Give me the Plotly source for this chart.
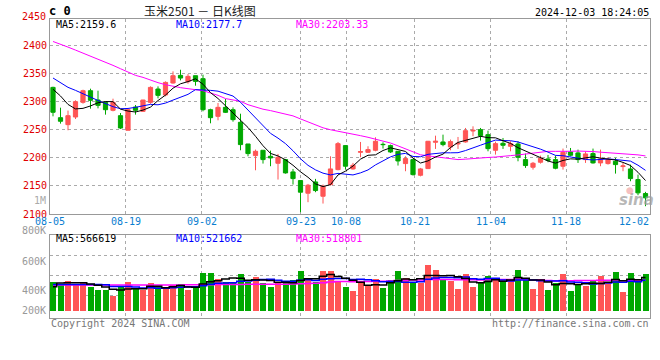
import plotly.graph_objects as go

# ---------------- data ----------------
DATE_TICK_INDEX = [0, 10, 20, 33, 39, 48, 58, 68, 78]
DATE_TICK_LABELS = ["08-05", "08-19", "09-02", "09-23", "10-08", "10-21", "11-04", "11-18", "12-02"]

OPEN = [2325.3, 2271.4, 2259.0, 2272.6, 2298.7, 2319.4, 2302.8, 2298.7, 2284.5, 2275.0,
        2249.0, 2290.4, 2282.7, 2298.7, 2322.4, 2311.7, 2333.1, 2346.7, 2335.4, 2346.1,
        2340.8, 2285.6, 2273.8, 2289.8, 2285.6, 2263.2, 2224.6, 2203.9, 2213.4, 2202.7,
        2190.3, 2196.8, 2174.9, 2159.5, 2137.0, 2157.1, 2131.6, 2152.4, 2179.0, 2221.7,
        2180.2, 2209.8, 2209.8, 2213.4, 2224.0, 2221.7, 2211.6, 2189.7, 2196.8, 2168.9,
        2180.8, 2227.6, 2228.2, 2219.3, 2224.6, 2228.2, 2247.7, 2250.1, 2241.2, 2213.4,
        2225.8, 2220.5, 2224.6, 2196.8, 2183.2, 2192.1, 2198.0, 2196.8, 2185.0, 2210.4,
        2208.7, 2196.8, 2207.5, 2190.9, 2189.7, 2193.8, 2184.4, 2180.2, 2161.3, 2136.4]
HIGH = [2326.5, 2289.2, 2284.0, 2302.3, 2321.2, 2323.0, 2319.4, 2299.9, 2305.2, 2279.7,
        2287.0, 2294.0, 2303.0, 2327.1, 2327.1, 2336.0, 2353.8, 2356.7, 2349.0, 2346.1,
        2347.9, 2287.4, 2297.5, 2304.6, 2289.8, 2278.5, 2224.6, 2214.6, 2213.4, 2212.8,
        2206.9, 2198.0, 2180.2, 2159.5, 2153.5, 2162.5, 2152.4, 2202.7, 2228.2, 2222.3,
        2190.9, 2228.2, 2220.5, 2236.5, 2227.6, 2223.5, 2211.6, 2202.7, 2198.0, 2182.0,
        2230.0, 2239.4, 2241.2, 2232.4, 2237.1, 2253.1, 2256.0, 2253.1, 2248.3, 2228.8,
        2235.3, 2229.4, 2229.4, 2207.5, 2192.6, 2203.9, 2205.1, 2203.9, 2216.4, 2217.5,
        2214.6, 2211.0, 2216.4, 2214.6, 2201.0, 2199.8, 2190.9, 2187.9, 2170.1, 2139.4]
LOW = [2273.8, 2260.8, 2249.0, 2269.0, 2296.3, 2287.4, 2288.0, 2276.8, 2282.7, 2251.3,
       2249.0, 2276.8, 2281.5, 2296.3, 2305.8, 2309.4, 2331.9, 2337.8, 2331.9, 2328.3,
       2282.7, 2261.4, 2266.7, 2279.7, 2264.3, 2213.4, 2202.7, 2177.8, 2189.7, 2185.0,
       2161.3, 2171.9, 2152.4, 2103.2, 2121.0, 2138.8, 2118.6, 2150.6, 2177.8, 2179.0,
       2179.0, 2201.0, 2208.7, 2211.6, 2216.4, 2208.7, 2186.2, 2176.1, 2168.4, 2167.0,
       2180.0, 2215.8, 2220.5, 2213.4, 2215.8, 2227.0, 2238.3, 2230.6, 2211.6, 2205.7,
       2215.8, 2211.6, 2193.8, 2182.0, 2179.0, 2189.7, 2192.1, 2179.6, 2179.0, 2202.7,
       2190.9, 2190.9, 2189.7, 2185.0, 2187.9, 2171.9, 2176.1, 2158.3, 2133.4, 2113.9]
CLOSE = [2281.0, 2265.0, 2275.0, 2299.9, 2319.4, 2302.3, 2293.3, 2285.6, 2298.7, 2253.0,
         2285.6, 2284.5, 2302.8, 2325.3, 2311.1, 2334.2, 2346.1, 2341.9, 2344.9, 2336.0,
         2285.6, 2271.4, 2289.8, 2280.9, 2267.9, 2223.5, 2207.5, 2211.6, 2196.8, 2199.8,
         2201.0, 2173.1, 2163.0, 2138.8, 2151.2, 2141.7, 2149.4, 2180.2, 2225.2, 2185.0,
         2186.7, 2211.0, 2214.6, 2229.4, 2223.5, 2210.4, 2194.4, 2198.6, 2170.1, 2180.2,
         2229.4, 2229.4, 2223.5, 2228.8, 2225.8, 2248.3, 2248.9, 2239.5, 2216.3, 2225.2,
         2222.3, 2225.2, 2200.9, 2186.2, 2190.3, 2199.2, 2195.6, 2181.4, 2209.8, 2204.5,
         2196.8, 2206.9, 2190.9, 2198.0, 2196.8, 2187.9, 2185.6, 2163.0, 2137.6, 2128.7]

MA5 = [2322.0, 2310.0, 2295.0, 2287.0, 2288.0, 2292.3, 2298.0, 2300.1, 2299.9, 2286.6,
       2283.2, 2281.5, 2284.9, 2290.2, 2301.9, 2311.6, 2323.9, 2331.7, 2335.6, 2340.6,
       2330.9, 2316.0, 2305.5, 2292.7, 2279.1, 2266.7, 2253.9, 2238.3, 2221.5, 2207.8,
       2203.3, 2196.5, 2186.7, 2175.1, 2165.4, 2153.6, 2148.8, 2152.3, 2169.5, 2176.3,
       2185.3, 2197.6, 2204.5, 2205.3, 2213.0, 2217.8, 2214.5, 2211.3, 2199.4, 2190.7,
       2194.5, 2201.5, 2206.5, 2218.3, 2227.4, 2231.2, 2235.1, 2238.3, 2235.8, 2235.6,
       2230.4, 2225.7, 2218.0, 2212.0, 2205.0, 2200.4, 2194.4, 2190.5, 2195.3, 2198.1,
       2197.6, 2199.9, 2201.8, 2199.4, 2197.9, 2196.1, 2191.8, 2186.3, 2174.2, 2159.6]
MA10 = [2342.0, 2333.0, 2325.4, 2320.0, 2313.5, 2308.0, 2302.0, 2296.0, 2291.0, 2287.3,
        2287.8, 2289.8, 2292.5, 2295.1, 2294.3, 2297.4, 2302.7, 2308.3, 2312.9, 2321.3,
        2321.3, 2320.0, 2318.6, 2314.2, 2309.9, 2298.8, 2285.0, 2271.9, 2257.1, 2243.5,
        2235.0, 2225.2, 2212.5, 2198.3, 2186.6, 2178.5, 2172.7, 2169.5, 2172.3, 2170.9,
        2169.5, 2173.2, 2178.4, 2187.4, 2194.7, 2201.6, 2206.1, 2207.9, 2202.4, 2201.9,
        2206.2, 2208.0, 2208.9, 2208.9, 2209.1, 2212.9, 2218.3, 2222.4, 2227.1, 2231.5,
        2230.8, 2230.4, 2228.2, 2223.9, 2220.3, 2215.4, 2210.1, 2204.3, 2203.7, 2201.6,
        2199.0, 2197.2, 2196.2, 2197.4, 2198.0, 2196.9, 2195.9, 2194.1, 2186.8, 2177.7]
MA30 = [2407.0, 2402.4, 2397.0, 2391.7, 2386.4, 2380.4, 2375.7, 2370.4, 2364.5, 2358.5,
        2352.0, 2346.7, 2343.1, 2337.8, 2333.7, 2330.1, 2327.1, 2324.8, 2323.0, 2321.8,
        2319.4, 2315.3, 2311.1, 2305.4, 2303.4, 2300.5, 2294.5, 2290.0, 2286.5, 2284.0,
        2281.3, 2278.3, 2274.6, 2269.2, 2263.6, 2258.2, 2253.4, 2249.9, 2247.5, 2245.2,
        2241.9, 2239.4, 2236.5, 2233.3, 2230.4, 2226.3, 2221.2, 2216.4, 2210.6, 2205.4,
        2203.5, 2202.1, 2199.9, 2198.2, 2196.8, 2197.6, 2199.0, 2199.9, 2200.6, 2201.4,
        2202.1, 2203.9, 2205.1, 2206.7, 2208.0, 2209.9, 2211.5, 2211.5, 2211.0, 2211.6,
        2212.0, 2211.8, 2211.1, 2210.0, 2209.1, 2208.4, 2208.1, 2206.9, 2205.2, 2203.33]

VOLUME = [490800, 456600, 507900, 450900, 473700, 399600, 354000, 354000, 257100, 399600,
          490800, 365400, 354000, 473700, 399600, 376800, 439500, 456600, 354000, 382500,
          644700, 644700, 542100, 490800, 468000, 627600, 485100, 576300, 473700, 411000,
          490800, 479400, 525000, 678900, 559200, 496500, 678900, 684600, 496500, 411000,
          342600, 496500, 428100, 542100, 388200, 525000, 684600, 564900, 485100, 479400,
          787200, 696000, 542100, 507900, 371100, 627600, 411000, 479400, 599100, 525000,
          496500, 525000, 701700, 525000, 371100, 507900, 354000, 468000, 627600, 342600,
          439500, 428100, 507900, 599100, 468000, 661800, 319800, 644700, 542100, 627600]
VOL_MA5 = [409500, 472200, 477900, 477900, 476000, 457700, 437200, 406400, 367700, 352900,
           371100, 373400, 373400, 416700, 416700, 393900, 408700, 429200, 405300, 401900,
           455500, 496500, 513600, 541000, 558100, 554600, 522700, 529600, 526100, 514700,
           487400, 486200, 476000, 517000, 546700, 547800, 587700, 619600, 583100, 553500,
           522700, 486200, 434900, 444100, 439500, 476000, 513600, 541000, 529600, 547800,
           600200, 602500, 598000, 602500, 580900, 548900, 491900, 479400, 497600, 528400,
           502200, 525000, 569500, 554600, 523900, 526100, 491900, 445200, 465700, 460000,
           446300, 461200, 469100, 463400, 488500, 533000, 511300, 538700, 527300, 566619]
VOL_MA10 = [449400, 449400, 449400, 449400, 449400, 449400, 449400, 443700, 415200, 414400,
            414400, 405300, 389900, 392200, 384800, 382500, 391100, 401300, 411000, 409300,
            424700, 452600, 471400, 473100, 480000, 505100, 509600, 521600, 533600, 536400,
            521000, 504500, 502800, 521600, 530700, 517600, 537000, 547800, 550100, 550100,
            535300, 537000, 527300, 513600, 496500, 499400, 499900, 488000, 486800, 493700,
            538100, 558100, 569500, 566000, 564300, 574600, 547200, 538700, 550100, 554600,
            525600, 508500, 524400, 526100, 526100, 514200, 508500, 507300, 510200, 491900,
            486200, 476600, 457200, 464600, 474300, 489700, 486200, 503900, 495400, 521662]
VOL_MA30 = [440000, 440000, 440000, 440000, 440000, 440000, 440000, 440000, 440000, 440000,
            440000, 440000, 440000, 440000, 440000, 440000, 441000, 441500, 442000, 442500,
            444000, 445500, 447000, 448000, 449000, 450000, 451000, 452000, 452800, 453400,
            453400, 454100, 454700, 462300, 465200, 468400, 479200, 490200, 498200, 498600,
            493700, 498000, 500500, 502800, 502400, 507300, 515500, 519100, 523500, 526700,
            531500, 533200, 533200, 533700, 530500, 530500, 528000, 524800, 529000, 532800,
            533000, 534500, 540400, 535300, 529000, 529400, 518500, 511300, 515700, 513400,
            516600, 514400, 517000, 518900, 521600, 526100, 514000, 516600, 518500, 518801]

PRICE_TICKS = [2100, 2150, 2200, 2250, 2300, 2350, 2400]
PRICE_TOP_LABEL = "2450"
VOL_AXIS_LABELS = ["800K", "600K", "400K", "200K"]

TITLE = "玉米2501 － 日K线图"
STAMP = "2024-12-03 18:24:05"

# ---------------- style / layout ----------------
RED = "#ff5555"
GREEN = "#00a800"
BLUE = "#0000ff"
MAGENTA = "#ff00ff"
GRID = "#aaaaaa"
BORDER = "#999999"
MONO = "DejaVu Sans Mono"

W, H = 660, 360
L, R, T, B = 50, 650, 19, 318          # plot area (px)
MAIN_BOTTOM_PX = 214
VOL_TOP_PX = 234.7
VOL_ZERO_PX = 310.7
VOL_PER_PX = 17100.0


def fx(px):
    return (px - L) / (R - L)


def fy(py):
    return (B - py) / (B - T)


N = len(CLOSE)
idx = list(range(N))
X_RANGE = [-0.4, N - 0.4]


def grid_x(i):
    # the date grid is spread over width/(n-1)
    return X_RANGE[0] + i * (X_RANGE[1] - X_RANGE[0]) / (N - 1)


grid_vals = [grid_x(i) for i in DATE_TICK_INDEX[1:-1]]

fig = go.Figure()

fig.add_trace(go.Candlestick(
    x=idx, open=OPEN, high=HIGH, low=LOW, close=CLOSE,
    increasing=dict(line=dict(color=RED, width=1), fillcolor=RED),
    decreasing=dict(line=dict(color=GREEN, width=1), fillcolor=GREEN),
    whiskerwidth=0, showlegend=False, hoverinfo="skip",
    xaxis="x", yaxis="y"))

for ys, col in ((MA30, MAGENTA), (MA10, BLUE), (MA5, "#000000")):
    fig.add_trace(go.Scatter(x=idx, y=ys, mode="lines",
                             line=dict(color=col, width=1),
                             showlegend=False, hoverinfo="skip",
                             xaxis="x", yaxis="y"))

bar_colors = [RED if c >= o else GREEN for o, c in zip(OPEN, CLOSE)]
fig.add_trace(go.Bar(x=idx, y=VOLUME, width=0.8,
                     marker=dict(color=bar_colors, line=dict(width=0)),
                     showlegend=False, hoverinfo="skip",
                     xaxis="x2", yaxis="y2"))

for ys, col in ((VOL_MA30, MAGENTA), (VOL_MA10, BLUE), (VOL_MA5, "#000000")):
    fig.add_trace(go.Scatter(x=idx, y=ys, mode="lines",
                             line=dict(color=col, width=1.5, shape="hvh"),
                             showlegend=False, hoverinfo="skip",
                             xaxis="x2", yaxis="y2"))

axis_common = dict(showline=True, linecolor=BORDER, linewidth=1, mirror=True,
                   zeroline=False, showgrid=True, gridcolor=GRID, griddash="dot",
                   gridwidth=1, ticks="", fixedrange=True)

vol_range = [(VOL_ZERO_PX - B) * VOL_PER_PX, (VOL_ZERO_PX - VOL_TOP_PX) * VOL_PER_PX]
vol_grid = [(VOL_ZERO_PX - p) * VOL_PER_PX for p in (295.3, 275.3, 255.0)]

fig.update_layout(
    width=W, height=H,
    margin=dict(l=L, r=W - R, t=T, b=H - B, pad=0),
    paper_bgcolor="white", plot_bgcolor="white",
    showlegend=False, boxgap=0.2,
    xaxis=dict(domain=[0, 1], range=X_RANGE, anchor="y", tickvals=grid_vals,
               showticklabels=False, rangeslider=dict(visible=False), **axis_common),
    yaxis=dict(domain=[fy(MAIN_BOTTOM_PX), 1], range=[2100, 2447], anchor="x",
               tickvals=PRICE_TICKS, ticktext=[str(v) for v in PRICE_TICKS],
               tickfont=dict(family=MONO, size=10, color="#e00000"), **axis_common),
    xaxis2=dict(domain=[0, 1], range=X_RANGE, anchor="y2", matches="x", tickvals=grid_vals,
                showticklabels=False, **axis_common),
    yaxis2=dict(domain=[0, fy(VOL_TOP_PX)], range=vol_range, anchor="x2",
                tickvals=vol_grid, showticklabels=False, **axis_common),
    bargap=0,
)

anns = []


def ann(text, x, y, color, size=10, xanchor="left", family=MONO):
    anns.append(dict(text=text, x=fx(x), y=fy(y), xref="paper", yref="paper",
                     showarrow=False, xanchor=xanchor, yanchor="middle",
                     font=dict(family=family, size=size, color=color)))


ann("<b>c 0</b>", 47, 11, "#000000", size=12)
ann(TITLE, 200, 10.5, "#222222", size=12, xanchor="center", family="Noto Sans CJK SC")
ann(STAMP, 651, 12.5, "#000000", xanchor="right")
ann(PRICE_TOP_LABEL, 48, 16, "#e00000", xanchor="right")
ann("1M", 48, 200, "#aaaaaa", xanchor="right")

ann(f"MA5:{MA5[-1]}", 54, 24.5, "#000000")
ann(f"MA10:{MA10[-1]}", 173.5, 24.5, BLUE)
ann(f"MA30:{MA30[-1]}", 294, 24.5, MAGENTA)

ann(f"MA5:{VOL_MA5[-1]}", 53.5, 238.5, "#000000")
ann(f"MA10:{VOL_MA10[-1]}", 174, 238.5, BLUE)
ann(f"MA30:{VOL_MA30[-1]}", 294, 238.5, MAGENTA)

for lab, py in zip(VOL_AXIS_LABELS, (230.7, 261.7, 290.7, 310.7)):
    ann(lab, 48, py, "#999999", xanchor="right")

for i, lab in zip(DATE_TICK_INDEX, DATE_TICK_LABELS):
    if i == DATE_TICK_INDEX[-1]:
        anns.append(dict(text=lab, x=fx(651), y=fy(221.5), xref="paper", yref="paper",
                         showarrow=False, xanchor="right", yanchor="middle",
                         font=dict(family=MONO, size=10, color="#0a7ed0")))
    else:
        anns.append(dict(text=lab, x=grid_x(i), y=fy(221.5), xref="x", yref="paper",
                         showarrow=False, xanchor="center", yanchor="middle",
                         font=dict(family=MONO, size=10, color="#0a7ed0")))

ann("Copyright 2024 SINA.COM", 48.5, 323, "#777777")
ann("http://finance.sina.com.cn", 651, 323, "#777777", xanchor="right")

# sina watermark
anns.append(dict(text="<b><i>sina</i></b>", x=fx(636), y=fy(200), xref="paper", yref="paper",
                 showarrow=False, xanchor="center", yanchor="middle",
                 font=dict(family="DejaVu Sans", size=15, color="rgba(160,160,160,0.75)")))
anns.append(dict(text="●", x=fx(630), y=fy(190), xref="paper", yref="paper",
                 showarrow=False, xanchor="center", yanchor="middle",
                 font=dict(family="DejaVu Sans", size=9, color="rgba(240,150,150,0.6)")))

fig.update_layout(annotations=anns)

fig.write_html("out.html",
               config={"displayModeBar": False, "staticPlot": True},
               post_script="document.body.style.margin='0';document.body.style.padding='0';")
